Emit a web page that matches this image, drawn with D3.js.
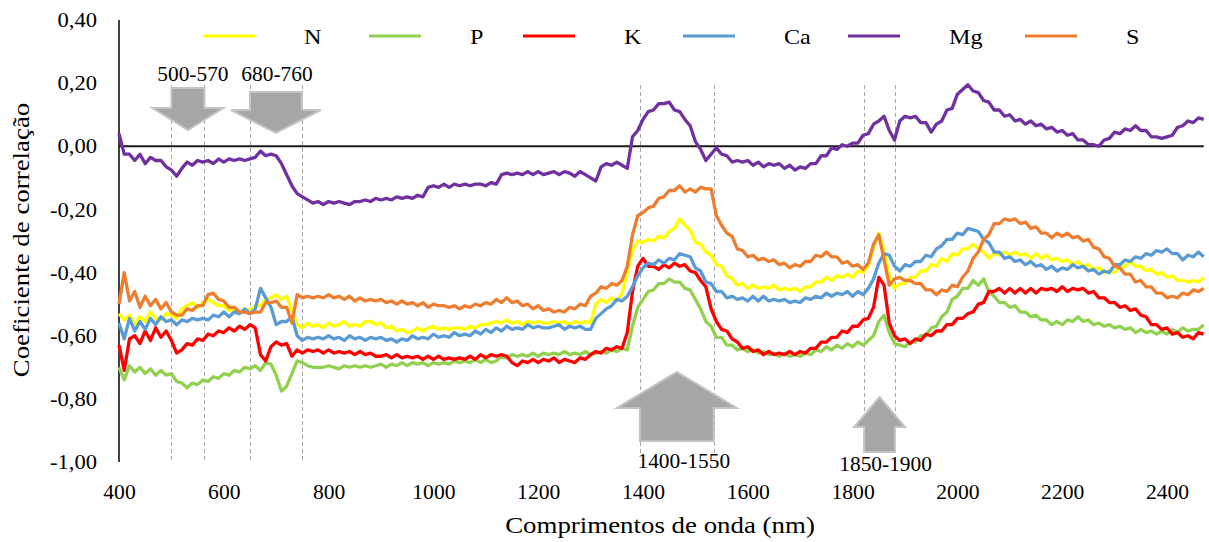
<!DOCTYPE html>
<html>
<head>
<meta charset="utf-8">
<script src="https://cdn.jsdelivr.net/npm/d3@7"></script>
<style>
  html, body { margin: 0; padding: 0; background: #fff; }
  svg { display: block; }
  svg text { font-family: "Liberation Serif", "Times New Roman", serif; fill: #000; }
</style>
</head>
<body>
<svg id="chart" width="1209" height="542"></svg>
<script>
// Wavelength grid (nm), sampled every 10 nm
const wavelengths = d3.range(400, 2471, 10);

// Correlation coefficient per nutrient
const N = [
  -0.53, -0.55, -0.535, -0.565, -0.54, -0.555, -0.525, -0.545, -0.55, -0.53,
  -0.535, -0.545, -0.515, -0.505, -0.495, -0.51, -0.495, -0.485, -0.495, -0.505,
  -0.505, -0.52, -0.515, -0.53, -0.515, -0.52, -0.505, -0.505, -0.485, -0.48,
  -0.47, -0.485, -0.475, -0.52, -0.565, -0.575, -0.56, -0.57, -0.565, -0.575,
  -0.56, -0.57, -0.565, -0.555, -0.57, -0.565, -0.57, -0.555, -0.555, -0.565,
  -0.56, -0.575, -0.57, -0.585, -0.58, -0.59, -0.585, -0.575, -0.585, -0.575,
  -0.57, -0.58, -0.575, -0.58, -0.575, -0.575, -0.58, -0.57, -0.575, -0.565,
  -0.565, -0.56, -0.555, -0.56, -0.55, -0.56, -0.555, -0.565, -0.555, -0.56,
  -0.555, -0.56, -0.56, -0.555, -0.56, -0.555, -0.565, -0.555, -0.56, -0.555,
  -0.56, -0.50, -0.485, -0.495, -0.48, -0.49, -0.465, -0.40, -0.33, -0.30,
  -0.305, -0.295, -0.30, -0.285, -0.29, -0.27, -0.26, -0.23, -0.25, -0.265,
  -0.305, -0.31, -0.335, -0.345, -0.375, -0.38, -0.41, -0.42, -0.44, -0.435,
  -0.45, -0.44, -0.45, -0.445, -0.45, -0.44, -0.455, -0.45, -0.455, -0.45,
  -0.46, -0.445, -0.445, -0.43, -0.43, -0.415, -0.425, -0.41, -0.415, -0.405,
  -0.415, -0.395, -0.40, -0.38, -0.32, -0.275, -0.33, -0.41, -0.45, -0.435,
  -0.435, -0.415, -0.415, -0.395, -0.395, -0.375, -0.38, -0.355, -0.365, -0.34,
  -0.345, -0.325, -0.325, -0.31, -0.325, -0.335, -0.355, -0.34, -0.345, -0.335,
  -0.345, -0.335, -0.345, -0.34, -0.355, -0.34, -0.355, -0.345, -0.36, -0.355,
  -0.365, -0.36, -0.375, -0.365, -0.38, -0.375, -0.39, -0.385, -0.40, -0.395,
  -0.40, -0.38, -0.38, -0.365, -0.38, -0.38, -0.395, -0.39, -0.405, -0.40,
  -0.415, -0.41, -0.425, -0.425, -0.43, -0.425, -0.43, -0.415
];
const P = [
  -0.70, -0.74, -0.695, -0.715, -0.70, -0.72, -0.705, -0.725, -0.71, -0.725,
  -0.72, -0.745, -0.75, -0.765, -0.75, -0.755, -0.74, -0.745, -0.73, -0.735,
  -0.72, -0.725, -0.71, -0.715, -0.70, -0.705, -0.695, -0.71, -0.685, -0.69,
  -0.725, -0.775, -0.76, -0.72, -0.68, -0.685, -0.695, -0.70, -0.70, -0.70,
  -0.695, -0.70, -0.705, -0.695, -0.70, -0.695, -0.70, -0.695, -0.70, -0.695,
  -0.69, -0.70, -0.69, -0.695, -0.685, -0.695, -0.685, -0.69, -0.685, -0.695,
  -0.685, -0.69, -0.685, -0.69, -0.68, -0.685, -0.68, -0.685, -0.675, -0.685,
  -0.675, -0.685, -0.68, -0.665, -0.67, -0.66, -0.665, -0.66, -0.665, -0.655,
  -0.665, -0.655, -0.66, -0.655, -0.66, -0.65, -0.66, -0.655, -0.66, -0.65,
  -0.66, -0.655, -0.65, -0.655, -0.645, -0.65, -0.64, -0.645, -0.57, -0.51,
  -0.485, -0.46, -0.455, -0.435, -0.435, -0.42, -0.43, -0.43, -0.45, -0.455,
  -0.485, -0.515, -0.555, -0.57, -0.605, -0.605, -0.63, -0.63, -0.645, -0.64,
  -0.65, -0.645, -0.655, -0.65, -0.66, -0.655, -0.665, -0.655, -0.665, -0.66,
  -0.665, -0.655, -0.66, -0.645, -0.65, -0.635, -0.645, -0.63, -0.64, -0.625,
  -0.635, -0.62, -0.63, -0.615, -0.60, -0.555, -0.535, -0.59, -0.625, -0.63,
  -0.635, -0.62, -0.62, -0.60, -0.60, -0.575, -0.57, -0.54, -0.525, -0.485,
  -0.475, -0.45, -0.45, -0.425, -0.44, -0.42, -0.46, -0.475, -0.495, -0.495,
  -0.51, -0.505, -0.525, -0.525, -0.54, -0.535, -0.55, -0.55, -0.565, -0.555,
  -0.565, -0.55, -0.555, -0.54, -0.555, -0.55, -0.565, -0.56, -0.57, -0.565,
  -0.575, -0.57, -0.58, -0.575, -0.59, -0.58, -0.59, -0.585, -0.595, -0.585,
  -0.595, -0.58, -0.59, -0.575, -0.585, -0.58, -0.58, -0.565
];
const K = [
  -0.63, -0.71, -0.61, -0.60, -0.625, -0.585, -0.615, -0.575, -0.605, -0.585,
  -0.615, -0.655, -0.645, -0.625, -0.63, -0.61, -0.615, -0.595, -0.60, -0.585,
  -0.59, -0.575, -0.585, -0.57, -0.58, -0.565, -0.575, -0.66, -0.68, -0.635,
  -0.62, -0.63, -0.625, -0.665, -0.645, -0.655, -0.645, -0.65, -0.645, -0.655,
  -0.645, -0.655, -0.65, -0.655, -0.65, -0.66, -0.65, -0.66, -0.655, -0.665,
  -0.665, -0.66, -0.67, -0.66, -0.67, -0.665, -0.67, -0.665, -0.675, -0.665,
  -0.675, -0.665, -0.675, -0.67, -0.675, -0.67, -0.675, -0.665, -0.675, -0.66,
  -0.67, -0.66, -0.665, -0.66, -0.665, -0.685, -0.695, -0.68, -0.685, -0.675,
  -0.685, -0.675, -0.68, -0.67, -0.685, -0.675, -0.68, -0.685, -0.67, -0.675,
  -0.66, -0.65, -0.655, -0.64, -0.645, -0.635, -0.64, -0.59, -0.46, -0.38,
  -0.355, -0.38, -0.38, -0.39, -0.375, -0.385, -0.37, -0.38, -0.375, -0.395,
  -0.40, -0.425, -0.445, -0.515, -0.555, -0.58, -0.585, -0.61, -0.62, -0.64,
  -0.635, -0.65, -0.645, -0.66, -0.65, -0.66, -0.655, -0.66, -0.65, -0.66,
  -0.65, -0.655, -0.64, -0.64, -0.62, -0.62, -0.605, -0.605, -0.585, -0.59,
  -0.57, -0.57, -0.55, -0.545, -0.51, -0.415, -0.44, -0.56, -0.60, -0.615,
  -0.61, -0.625, -0.61, -0.615, -0.595, -0.60, -0.585, -0.585, -0.565, -0.565,
  -0.545, -0.545, -0.53, -0.525, -0.50, -0.495, -0.46, -0.46, -0.45, -0.465,
  -0.45, -0.465, -0.45, -0.465, -0.45, -0.465, -0.45, -0.455, -0.45, -0.46,
  -0.445, -0.46, -0.45, -0.455, -0.45, -0.465, -0.46, -0.48, -0.48, -0.495,
  -0.495, -0.51, -0.505, -0.52, -0.515, -0.535, -0.54, -0.565, -0.565, -0.58,
  -0.575, -0.595, -0.59, -0.605, -0.60, -0.61, -0.59, -0.595
];
const Ca = [
  -0.56, -0.61, -0.545, -0.585, -0.555, -0.58, -0.545, -0.565, -0.54, -0.555,
  -0.55, -0.565, -0.55, -0.555, -0.545, -0.55, -0.545, -0.55, -0.535, -0.54,
  -0.525, -0.54, -0.525, -0.53, -0.515, -0.53, -0.515, -0.45, -0.48, -0.51,
  -0.565, -0.555, -0.555, -0.54, -0.60, -0.615, -0.605, -0.61, -0.605, -0.61,
  -0.60, -0.61, -0.605, -0.615, -0.60, -0.61, -0.605, -0.615, -0.605, -0.61,
  -0.605, -0.615, -0.61, -0.62, -0.61, -0.615, -0.60, -0.61, -0.605, -0.61,
  -0.595, -0.605, -0.60, -0.605, -0.59, -0.60, -0.595, -0.60, -0.585, -0.595,
  -0.58, -0.59, -0.575, -0.585, -0.57, -0.58, -0.575, -0.58, -0.565, -0.575,
  -0.57, -0.575, -0.575, -0.57, -0.565, -0.58, -0.57, -0.575, -0.57, -0.58,
  -0.58, -0.545, -0.53, -0.515, -0.505, -0.485, -0.49, -0.475, -0.445, -0.41,
  -0.385, -0.37, -0.375, -0.36, -0.37, -0.355, -0.36, -0.34, -0.345, -0.35,
  -0.385, -0.395, -0.43, -0.435, -0.46, -0.46, -0.48, -0.475, -0.485, -0.48,
  -0.49, -0.475, -0.49, -0.475, -0.49, -0.485, -0.49, -0.485, -0.495, -0.49,
  -0.495, -0.48, -0.485, -0.475, -0.48, -0.465, -0.475, -0.465, -0.47, -0.46,
  -0.475, -0.46, -0.47, -0.45, -0.42, -0.37, -0.34, -0.345, -0.38, -0.395,
  -0.375, -0.38, -0.365, -0.365, -0.345, -0.35, -0.325, -0.315, -0.295, -0.295,
  -0.275, -0.28, -0.26, -0.265, -0.27, -0.295, -0.305, -0.335, -0.335, -0.355,
  -0.35, -0.365, -0.36, -0.375, -0.365, -0.38, -0.375, -0.39, -0.38, -0.395,
  -0.385, -0.39, -0.375, -0.385, -0.38, -0.395, -0.39, -0.405, -0.395, -0.40,
  -0.375, -0.375, -0.36, -0.365, -0.35, -0.355, -0.34, -0.345, -0.33, -0.335,
  -0.325, -0.34, -0.34, -0.36, -0.345, -0.35, -0.335, -0.35
];
const Mg = [
  0.04, -0.025, -0.025, -0.045, -0.025, -0.055, -0.035, -0.045, -0.045, -0.065,
  -0.075, -0.095, -0.07, -0.05, -0.06, -0.045, -0.05, -0.045, -0.055, -0.04,
  -0.05, -0.04, -0.045, -0.04, -0.045, -0.04, -0.035, -0.015, -0.03, -0.025,
  -0.03, -0.055, -0.09, -0.125, -0.15, -0.16, -0.17, -0.18, -0.175, -0.185,
  -0.175, -0.18, -0.175, -0.18, -0.185, -0.175, -0.175, -0.17, -0.175, -0.165,
  -0.17, -0.165, -0.17, -0.16, -0.165, -0.16, -0.165, -0.155, -0.16, -0.13,
  -0.125, -0.13, -0.12, -0.13, -0.12, -0.125, -0.12, -0.125, -0.12, -0.12,
  -0.125, -0.115, -0.12, -0.09, -0.085, -0.09, -0.085, -0.09, -0.08, -0.09,
  -0.08, -0.09, -0.085, -0.08, -0.09, -0.08, -0.085, -0.095, -0.08, -0.09,
  -0.10, -0.11, -0.065, -0.055, -0.06, -0.05, -0.06, -0.07, 0.03, 0.05,
  0.085, 0.11, 0.115, 0.135, 0.135, 0.14, 0.115, 0.11, 0.085, 0.065,
  0.015, -0.01, -0.045, -0.025, -0.005, -0.025, -0.03, -0.05, -0.045, -0.05,
  -0.045, -0.06, -0.05, -0.065, -0.055, -0.06, -0.055, -0.07, -0.06, -0.075,
  -0.065, -0.07, -0.055, -0.055, -0.03, -0.03, -0.005, -0.01, 0.005, 0.0,
  0.01, 0.01, 0.035, 0.04, 0.07, 0.08, 0.095, 0.05, 0.02, 0.08,
  0.095, 0.09, 0.095, 0.075, 0.075, 0.045, 0.07, 0.08, 0.115, 0.12,
  0.165, 0.18, 0.195, 0.175, 0.17, 0.145, 0.14, 0.115, 0.115, 0.095,
  0.10, 0.08, 0.085, 0.07, 0.08, 0.065, 0.07, 0.055, 0.06, 0.045,
  0.05, 0.035, 0.04, 0.02, 0.02, 0.005, 0.005, 0.0, 0.02, 0.025,
  0.045, 0.04, 0.055, 0.05, 0.065, 0.05, 0.05, 0.03, 0.03, 0.025,
  0.03, 0.035, 0.06, 0.065, 0.08, 0.075, 0.09, 0.085
];
const S = [
  -0.50, -0.40, -0.49, -0.46, -0.51, -0.475, -0.505, -0.485, -0.515, -0.495,
  -0.525, -0.535, -0.535, -0.515, -0.52, -0.505, -0.505, -0.47, -0.465, -0.485,
  -0.49, -0.51, -0.51, -0.525, -0.525, -0.53, -0.525, -0.525, -0.495, -0.495,
  -0.49, -0.51, -0.51, -0.56, -0.47, -0.48, -0.475, -0.48, -0.475, -0.48,
  -0.47, -0.48, -0.475, -0.485, -0.475, -0.49, -0.48, -0.49, -0.485, -0.49,
  -0.485, -0.495, -0.49, -0.50, -0.49, -0.50, -0.495, -0.505, -0.495, -0.51,
  -0.50, -0.505, -0.505, -0.51, -0.505, -0.515, -0.505, -0.51, -0.50, -0.505,
  -0.495, -0.50, -0.485, -0.495, -0.48, -0.495, -0.49, -0.505, -0.50, -0.515,
  -0.505, -0.52, -0.515, -0.525, -0.52, -0.525, -0.51, -0.515, -0.50, -0.505,
  -0.475, -0.465, -0.445, -0.45, -0.435, -0.44, -0.425, -0.38, -0.28, -0.22,
  -0.21, -0.195, -0.19, -0.165, -0.16, -0.14, -0.14, -0.125, -0.145, -0.135,
  -0.145, -0.13, -0.135, -0.135, -0.22, -0.25, -0.275, -0.285, -0.325, -0.33,
  -0.35, -0.345, -0.36, -0.355, -0.365, -0.36, -0.375, -0.37, -0.385, -0.375,
  -0.38, -0.365, -0.365, -0.345, -0.35, -0.335, -0.35, -0.35, -0.37, -0.365,
  -0.38, -0.375, -0.39, -0.37, -0.31, -0.28, -0.36, -0.44, -0.42, -0.415,
  -0.425, -0.425, -0.435, -0.435, -0.455, -0.455, -0.47, -0.455, -0.46, -0.44,
  -0.445, -0.415, -0.395, -0.355, -0.335, -0.295, -0.28, -0.245, -0.245, -0.23,
  -0.235, -0.23, -0.245, -0.24, -0.26, -0.255, -0.275, -0.275, -0.29, -0.275,
  -0.285, -0.275, -0.29, -0.285, -0.30, -0.295, -0.32, -0.325, -0.35, -0.355,
  -0.38, -0.385, -0.405, -0.405, -0.43, -0.425, -0.445, -0.445, -0.465, -0.465,
  -0.48, -0.475, -0.48, -0.465, -0.47, -0.455, -0.46, -0.45
];

const seriesNames = ["N", "P", "K", "Ca", "Mg", "S"];
const seriesValues = [N, P, K, Ca, Mg, S];
const seriesColors = ["#FFFF00", "#92D050", "#FF0000", "#5B9BD5", "#7030A0", "#ED7D31"];

// Axis ticks
const xTickValues = [400, 600, 800, 1000, 1200, 1400, 1600, 1800, 2000, 2200, 2400];
const yTickValues = [0.4, 0.2, 0, -0.2, -0.4, -0.6, -0.8, -1.0];

// Highlighted spectral bands: label, dashed-guide wavelengths (nm), arrow direction
const bandLabels = ["500-570", "680-760", "1400-1550", "1850-1900"];
const bandStart = [500, 650, 1394, 1822];
const bandEnd = [563, 749, 1535, 1881];
const bandDirection = ["down", "down", "up", "up"];
</script>
<script>
(function () {
  const svg = d3.select("#chart");
  const xEnd = 2470;
  const stretch = 1.13;   // wide serif lettering

  const x = d3.scaleLinear().domain([400, 2500]).range([119, 119 + 2100 * 0.524]);
  const y = d3.scaleLinear().domain([-1, 0.4]).range([462, 20]);

  // Arrow shapes (pixel geometry for each band marker)
  const arrowGeom = [
    { top: 88, base: 108, tip: 130, ext: 19, labelY: 81, labelDx: 5 },
    { top: 92, base: 110, tip: 133, ext: 19, labelY: 81, labelDx: 1 },
    { top: 441, base: 408, tip: 372, ext: 23, labelY: 468, labelDx: 7 },
    { top: 452, base: 427, tip: 397, ext: 10, labelY: 471, labelDx: 6 }
  ];

  function stretchedText(g, tx, ty, size, str, anchor, sx) {
    return g.append("text")
      .attr("transform", `translate(${tx},${ty}) scale(${sx || stretch},1)`)
      .attr("text-anchor", anchor || "middle")
      .attr("font-size", size)
      .text(str);
  }

  // Dashed guides at band edges
  const guides = svg.append("g").attr("class", "guides");
  bandLabels.forEach((lab, i) => {
    const yb = bandDirection[i] === "down" ? 462 : 456;
    [bandStart[i], bandEnd[i]].forEach(w => {
      const px = Math.round(x(w)) + 0.5;
      guides.append("line")
        .attr("x1", px).attr("x2", px)
        .attr("y1", 85).attr("y2", yb)
        .attr("stroke", "#a6a6a6").attr("stroke-width", 1)
        .attr("stroke-dasharray", "4,3");
    });
  });

  // Y axis line
  svg.append("line")
    .attr("x1", x(400)).attr("x2", x(400))
    .attr("y1", y(0.4)).attr("y2", y(-1))
    .attr("stroke", "#404040").attr("stroke-width", 2);

  // Zero line
  svg.append("line")
    .attr("x1", x(400)).attr("x2", x(xEnd))
    .attr("y1", y(0)).attr("y2", y(0))
    .attr("stroke", "#1a1a1a").attr("stroke-width", 2);

  // Y tick labels
  const fmt = v => d3.format(".2f")(v).replace(".", ",").replace("\u2212", "-");
  const yAxis = d3.axisLeft(y).tickValues(yTickValues).tickSize(0).tickPadding(0).tickFormat(fmt);
  const gy = svg.append("g").attr("transform", "translate(97,0)").call(yAxis);
  gy.select(".domain").remove();
  gy.attr("font-family", null).attr("font-size", null);
  gy.selectAll("text")
    .attr("font-size", 20)
    .attr("fill", "#000")
    .attr("dy", "0.33em")
    .attr("transform", `scale(${stretch},1)`);

  // X tick labels
  const xAxis = d3.axisBottom(x).tickValues(xTickValues).tickSize(0).tickPadding(0).tickFormat(d3.format("d"));
  const gx = svg.append("g").attr("transform", "translate(0,485)").call(xAxis);
  gx.select(".domain").remove();
  gx.attr("font-family", null).attr("font-size", null);
  gx.selectAll("text")
    .attr("font-size", 20)
    .attr("fill", "#000")
    .attr("dy", "0.71em")
    .attr("transform", `scale(1.08,1)`);

  // Series lines
  const line = d3.line()
    .x((d, i) => x(wavelengths[i]))
    .y(d => y(d));
  const gl = svg.append("g").attr("class", "series");
  seriesValues.forEach((vals, k) => {
    gl.append("path")
      .datum(vals)
      .attr("d", line)
      .attr("fill", "none")
      .attr("stroke", seriesColors[k])
      .attr("stroke-width", 3.3)
      .attr("stroke-linejoin", "round");
  });

  // Band arrows and labels
  const ga = svg.append("g").attr("class", "arrows");
  bandLabels.forEach((lab, i) => {
    const g = arrowGeom[i];
    const x0 = x(bandStart[i]), x1 = x(bandEnd[i]);
    const cx = (x0 + x1) / 2;
    const pts = [
      [x0, g.top], [x1, g.top], [x1, g.base], [x1 + g.ext, g.base],
      [cx, g.tip], [x0 - g.ext, g.base], [x0, g.base]
    ];
    ga.append("path")
      .attr("d", d3.line()(pts) + "Z")
      .attr("fill", "#a6a6a6")
      .attr("stroke", "#c4c4c4")
      .attr("stroke-width", 2)
      .attr("stroke-linejoin", "miter");
    stretchedText(ga, cx + g.labelDx, g.labelY, 20, lab, "middle", 1.07);
  });

  // Legend
  const legendX = [203, 369, 523, 683, 848, 1025];
  const gLeg = svg.append("g").attr("class", "legend");
  seriesNames.forEach((name, k) => {
    gLeg.append("line")
      .attr("x1", legendX[k]).attr("x2", legendX[k] + 52)
      .attr("y1", 36).attr("y2", 36)
      .attr("stroke", seriesColors[k]).attr("stroke-width", 3);
    stretchedText(gLeg, legendX[k] + 101, 44, 21, name, "start", 1.15);
  });

  // Axis titles
  stretchedText(svg, 660, 533, 24, "Comprimentos de onda (nm)", "middle", 1.12);
  svg.append("text")
    .attr("transform", "translate(29,240) rotate(-90) scale(1.12,1)")
    .attr("text-anchor", "middle")
    .attr("font-size", 24)
    .text("Coeficiente de correlação");
})();
</script>
</body>
</html>
